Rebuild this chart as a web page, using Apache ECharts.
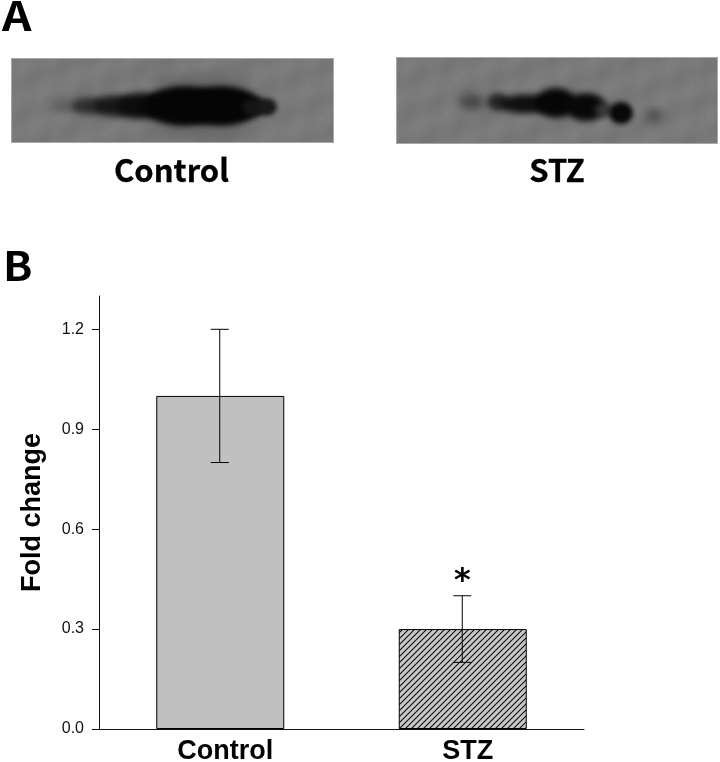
<!DOCTYPE html>
<html><head><meta charset="utf-8">
<style>html,body{margin:0;padding:0;background:#fff}#c{width:720px;height:762px}</style>
<script src="https://cdn.jsdelivr.net/npm/echarts@6/dist/echarts.min.js"></script>
</head><body><div id="c"></div>
<script>
const categories = ['Control', 'STZ'];
const foldChange = [1.0, 0.3];
const errLow = [0.8, 0.2];
const errHigh = [1.2, 0.4];
const yTicks = [0, 0.3, 0.6, 0.9, 1.2];
const sigMarks = ['', '*'];

function hatch() {
  const s = 6, c = document.createElement('canvas');
  c.width = s; c.height = s;
  const g = c.getContext('2d');
  g.fillStyle = '#c8c8c8'; g.fillRect(0, 0, s, s);
  g.strokeStyle = '#111'; g.lineWidth = 1.15;
  g.beginPath();
  g.moveTo(-1, 1); g.lineTo(1, -1);
  g.moveTo(-1, s + 1); g.lineTo(s + 1, -1);
  g.moveTo(s - 1, s + 1); g.lineTo(s + 1, s - 1);
  g.stroke();
  return c;
}
function blot(w, h, blobs) {
  const c = document.createElement('canvas');
  c.width = w; c.height = h;
  const g = c.getContext('2d');
  g.fillStyle = '#7b7b7b'; g.fillRect(0, 0, w, h);
  g.filter = 'blur(2.5px)';
  for (let y = -6; y < h + 6; y += 5) for (let x = -6; x < w + 6; x += 5) {
    const v = Math.round(123 + 5 * Math.sin(x * 0.37 + y * 0.91) * Math.cos(x * 0.13 - y * 0.41)
      + 4 * Math.sin(x * 0.071 + y * 0.19));
    g.fillStyle = 'rgb(' + v + ',' + v + ',' + v + ')';
    g.fillRect(x, y, 6, 6);
  }
  blobs.forEach(b => {
    g.filter = 'blur(' + b[5] + 'px)';
    g.fillStyle = b[4];
    g.beginPath(); g.ellipse(b[0], b[1], b[2], b[3], 0, 0, 7); g.fill();
  });
  g.filter = 'none';
  g.strokeStyle = '#a8a8a8'; g.lineWidth = 1;
  g.strokeRect(0.5, 0.5, w - 1, h - 1);
  return c;
}
const blotControl = blot(323, 85, [
  [190, 24, 52, 7, '#666666', 6],
  [190, 74, 50, 6, '#666666', 6],
  [56, 48, 16, 6, '#5c5c5c', 4],
  [78, 48, 17, 8.5, '#2e2e2e', 3.5],
  [104, 48, 22, 10.5, '#181818', 3.5],
  [130, 48, 24, 13, '#0c0c0c', 3.5],
  [170, 48, 36, 19, '#050505', 3.5],
  [213, 48, 35, 19, '#050505', 3.5],
  [192, 48, 60, 18, '#050505', 3.5],
  [245, 49, 14, 9, '#151515', 2.5],
  [257, 49, 9, 8.5, '#1a1a1a', 2.5]
]);
const blotSTZ = blot(322, 87, [
  [76, 45, 13, 8, '#484848', 4],
  [102, 45, 11, 9, '#262626', 3],
  [130, 47, 26, 9.5, '#101010', 3],
  [160, 46, 21, 15, '#060606', 3],
  [190, 50, 20, 14, '#080808', 3],
  [208, 53, 9, 7, '#383838', 3],
  [225, 56, 12, 11, '#080808', 2.5],
  [258, 59, 9, 7, '#505050', 4]
]);

const axisColor = '#111';
const chart = echarts.init(document.getElementById('c'), null, {renderer: 'canvas'});
chart.setOption({
  animation: false,
  backgroundColor: '#fff',
  grid: {left: 99, right: 136, top: 296, bottom: 33, outerBoundsMode: 'none'},
  xAxis: {
    type: 'category', data: categories,
    axisLine: {onZero: false, lineStyle: {color: axisColor, width: 1}},
    axisTick: {show: false},
    axisLabel: {color: '#000', fontFamily: 'Liberation Sans', fontWeight: 'bold', fontSize: 27, margin: 9, padding: [0, 0, 0, 10]}
  },
  yAxis: {
    type: 'value', min: 0, max: 1.3, interval: 0.1,
    name: 'Fold change', nameLocation: 'middle', nameGap: 53,
    nameTextStyle: {color: '#000', fontFamily: 'Liberation Sans', fontWeight: 'bold', fontSize: 27},
    axisLine: {show: true, lineStyle: {color: axisColor, width: 1}},
    axisTick: {show: true, length: 7, lineStyle: {color: axisColor}, customValues: yTicks},
    splitLine: {show: false},
    axisLabel: {color: '#111', fontFamily: 'Liberation Sans', fontSize: 16, margin: 15,
      customValues: yTicks, formatter: v => v.toFixed(1)}
  },
  series: [
    {
      type: 'bar', barWidth: 128,
      data: [
        {value: foldChange[0], itemStyle: {color: '#c0c0c0', borderColor: '#000', borderWidth: 1}},
        {value: foldChange[1], itemStyle: {color: {image: hatch(), repeat: 'repeat'}, borderColor: '#000', borderWidth: 1}}
      ]
    },
    {
      type: 'custom', z: 5,
      data: categories.map((c, i) => [i, errLow[i], errHigh[i]]),
      encode: {x: 0, y: [1, 2]},
      renderItem(params, api) {
        const lo = api.coord([api.value(0), api.value(1)]);
        const hi = api.coord([api.value(0), api.value(2)]);
        const x = lo[0] - 0.5, cap = 9;
        const ls = {stroke: '#000', lineWidth: 1};
        const children = [
          {type: 'line', shape: {x1: x, y1: lo[1], x2: x, y2: hi[1]}, style: ls},
          {type: 'line', shape: {x1: x - cap, y1: lo[1], x2: x + cap, y2: lo[1]}, style: ls},
          {type: 'line', shape: {x1: x - cap, y1: hi[1], x2: x + cap, y2: hi[1]}, style: ls}
        ];
        const mark = sigMarks[params.dataIndex];
        if (mark) children.push({
          type: 'text',
          style: {text: mark, x: x, y: hi[1] + 2, align: 'center', verticalAlign: 'bottom',
            fontFamily: 'DejaVu Sans', fontWeight: 'bold', fontSize: 32, fill: '#000'}
        });
        return {type: 'group', children};
      }
    }
  ],
  graphic: [
    {type: 'image', x: 11, y: 58, style: {image: blotControl, width: 323, height: 85}},
    {type: 'image', x: 396, y: 57, style: {image: blotSTZ, width: 322, height: 87}},
    {type: 'text', x: 2, y: -4, scaleX: 1.15, style: {text: 'A', fontFamily: 'Noto Sans CJK KR', fontWeight: 'bold', fontSize: 40, fill: '#000'}},
    {type: 'text', x: 3, y: 246, scaleX: 1.08, style: {text: 'B', fontFamily: 'Noto Sans CJK KR', fontWeight: 'bold', fontSize: 40, fill: '#000'}},
    {type: 'text', x: 171.5, y: 170, style: {text: 'Control', align: 'center', verticalAlign: 'middle', fontFamily: 'Noto Sans CJK KR', fontWeight: 'bold', fontSize: 31, fill: '#000', stroke: '#000', lineWidth: 0.3}},
    {type: 'text', x: 557, y: 170, style: {text: 'STZ', align: 'center', verticalAlign: 'middle', fontFamily: 'Noto Sans CJK KR', fontWeight: 'bold', fontSize: 31, fill: '#000', stroke: '#000', lineWidth: 0.3}}
  ]
});
</script></body></html>
